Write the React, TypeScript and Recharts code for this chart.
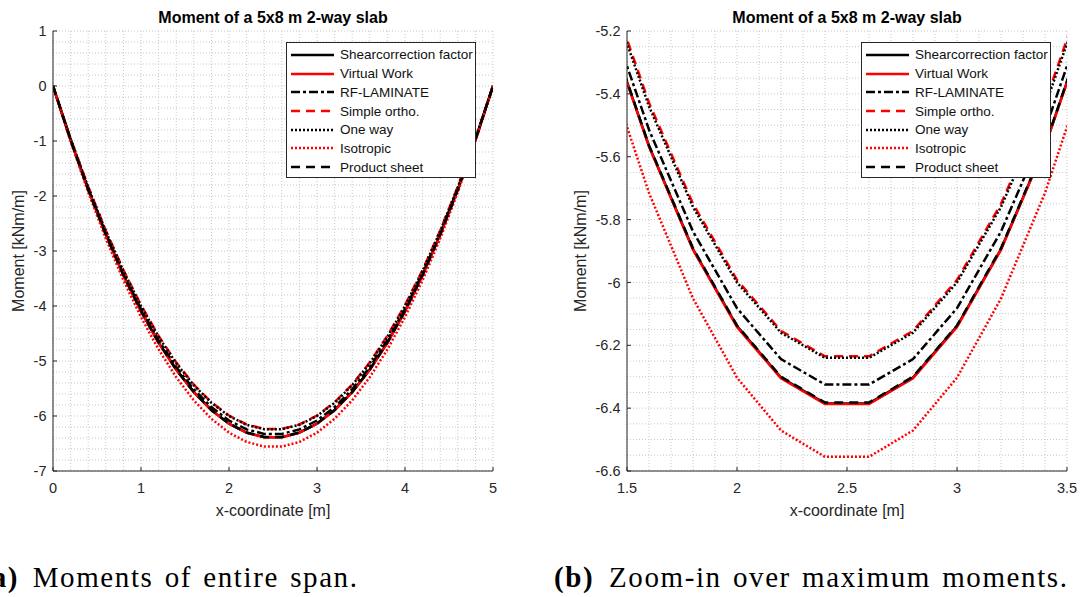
import {
  LineChart,
  Line,
  XAxis,
  YAxis,
  CartesianGrid,
  Legend,
  Label,
} from "recharts";

// x positions along the 5 m span (sampled every 0.2 m)
const xCoord = [
  0, 0.2, 0.4, 0.6, 0.8, 1, 1.2, 1.4, 1.6, 1.8, 2, 2.2, 2.4, 2.6, 2.8, 3, 3.2,
  3.4, 3.6, 3.8, 4, 4.2, 4.4, 4.6, 4.8, 5,
];

// moments [kNm/m]
const shearCorrection = [
  0, -0.982, -1.883, -2.701, -3.438, -4.093, -4.666, -5.157, -5.566, -5.894,
  -6.139, -6.303, -6.385, -6.385, -6.303, -6.139, -5.894, -5.566, -5.157,
  -4.666, -4.093, -3.438, -2.701, -1.883, -0.982, 0,
];
const virtualWork = [
  0, -0.983, -1.883, -2.702, -3.439, -4.094, -4.668, -5.159, -5.568, -5.896,
  -6.142, -6.305, -6.387, -6.387, -6.305, -6.142, -5.896, -5.568, -5.159,
  -4.668, -4.094, -3.439, -2.702, -1.883, -0.983, 0,
];
const rfLaminate = [
  0, -0.973, -1.865, -2.676, -3.406, -4.054, -4.622, -5.109, -5.514, -5.838,
  -6.082, -6.244, -6.325, -6.325, -6.244, -6.082, -5.838, -5.514, -5.109,
  -4.622, -4.054, -3.406, -2.676, -1.865, -0.973, 0,
];
const simpleOrtho = [
  0, -0.955, -1.83, -2.627, -3.345, -3.983, -4.543, -5.025, -5.428, -5.75,
  -5.992, -6.154, -6.235, -6.235, -6.154, -5.992, -5.75, -5.428, -5.025,
  -4.543, -3.983, -3.345, -2.627, -1.83, -0.955, 0,
];
const oneWay = [
  0, -0.96, -1.84, -2.64, -3.36, -4.0, -4.56, -5.04, -5.44, -5.76, -6.0,
  -6.16, -6.24, -6.24, -6.16, -6.0, -5.76, -5.44, -5.04, -4.56, -4.0, -3.36,
  -2.64, -1.84, -0.96, 0,
];
const isotropic = [
  0, -1.008, -1.933, -2.773, -3.53, -4.202, -4.79, -5.295, -5.715, -6.051,
  -6.303, -6.471, -6.555, -6.555, -6.471, -6.303, -6.051, -5.715, -5.295,
  -4.79, -4.202, -3.53, -2.773, -1.933, -1.008, 0,
];
const productSheet = [
  0, -0.982, -1.882, -2.7, -3.437, -4.091, -4.664, -5.155, -5.564, -5.891,
  -6.137, -6.3, -6.382, -6.382, -6.3, -6.137, -5.891, -5.564, -5.155, -4.664,
  -4.091, -3.437, -2.7, -1.882, -0.982, 0,
];

const spanXTicks = [0, 1, 2, 3, 4, 5];
const spanYTicks = [-7, -6, -5, -4, -3, -2, -1, 0, 1];
const zoomXTicks = [1.5, 2, 2.5, 3, 3.5];
const zoomYTicks = [-6.6, -6.4, -6.2, -6, -5.8, -5.6, -5.4, -5.2];

const rows = xCoord.map((x, i) => ({
  x,
  shear: shearCorrection[i],
  virtual: virtualWork[i],
  rf: rfLaminate[i],
  simple: simpleOrtho[i],
  oneWay: oneWay[i],
  iso: isotropic[i],
  product: productSheet[i],
}));

interface SeriesDef {
  key: string;
  name: string;
  color: string;
  dash?: string;
}

const SERIES: SeriesDef[] = [
  { key: "shear", name: "Shearcorrection factor", color: "#000000" },
  { key: "virtual", name: "Virtual Work", color: "#ff0000" },
  { key: "rf", name: "RF-LAMINATE", color: "#000000", dash: "9 3 3 3" },
  { key: "simple", name: "Simple ortho.", color: "#ff0000", dash: "9 6" },
  { key: "oneWay", name: "One way", color: "#000000", dash: "2 2" },
  { key: "iso", name: "Isotropic", color: "#ff0000", dash: "2 2" },
  { key: "product", name: "Product sheet", color: "#000000", dash: "9 6" },
];

// minor grid positions (layout only)
const steps = (from: number, to: number, step: number) => {
  const out: number[] = [];
  const n = Math.round((to - from) / step);
  for (let i = 0; i <= n; i++) out.push(Math.round((from + i * step) * 1000) / 1000);
  return out;
};

const SANS = '"Liberation Sans", Arial, Helvetica, sans-serif';
const SERIF = '"Liberation Serif", "Times New Roman", serif';
const AXIS = "#262626";
const tickStyle = { fill: AXIS, fontSize: 14.5, fontFamily: SANS };
const axisLabelStyle = { fill: AXIS, fontSize: 16, fontFamily: SANS };

const LegendBox = () => (
  <div
    style={{
      width: 190,
      height: 136,
      boxSizing: "border-box",
      border: `1px solid ${AXIS}`,
      background: "#fff",
      paddingTop: 2.6,
      fontFamily: SANS,
      fontSize: 13.5,
      color: "#111",
    }}
  >
    {SERIES.map((s) => (
      <div
        key={s.key}
        style={{ display: "flex", alignItems: "center", height: 18.7 }}
      >
        <svg width={48} height={10} style={{ flex: "none" }}>
          <line
            x1={4}
            x2={47}
            y1={5}
            y2={5}
            stroke={s.color}
            strokeWidth={2.6}
            strokeDasharray={s.dash}
          />
        </svg>
        <span style={{ marginLeft: 5, whiteSpace: "nowrap" }}>{s.name}</span>
      </div>
    ))}
  </div>
);

interface MomentChartProps {
  xDomain: [number, number];
  yDomain: [number, number];
  xTicks: number[];
  yTicks: number[];
  xMinor: number[];
  yMinor: number[];
  marginLeft: number;
  marginRight: number;
  yAxisWidth: number;
  yLabelOffset: number;
  legendLeft: number;
}

const MomentChart = (p: MomentChartProps) => (
  <LineChart
    width={540}
    height={530}
    data={rows}
    margin={{ top: 31, right: p.marginRight, bottom: 14, left: p.marginLeft }}
  >
    <XAxis
      xAxisId="minorX"
      type="number"
      dataKey="x"
      domain={p.xDomain}
      ticks={p.xMinor}
      interval={0}
      allowDataOverflow
      hide
    />
    <YAxis
      yAxisId="minorY"
      type="number"
      domain={p.yDomain}
      ticks={p.yMinor}
      interval={0}
      allowDataOverflow
      hide
    />
    <CartesianGrid
      xAxisId="minorX"
      yAxisId="minorY"
      stroke="#c8c8c8"
      strokeDasharray="1 2"
    />
    <XAxis
      type="number"
      dataKey="x"
      domain={p.xDomain}
      ticks={p.xTicks}
      interval={0}
      allowDataOverflow
      height={45}
      tickSize={-4}
      tickMargin={16}
      tick={tickStyle}
      axisLine={{ stroke: AXIS }}
      tickLine={{ stroke: AXIS }}
    >
      <Label
        value="x-coordinate [m]"
        position="insideTop"
        offset={33.5}
        style={axisLabelStyle}
      />
    </XAxis>
    <YAxis
      type="number"
      domain={p.yDomain}
      ticks={p.yTicks}
      interval={0}
      allowDataOverflow
      width={p.yAxisWidth}
      tickSize={-4}
      tickMargin={10.5}
      tick={tickStyle}
      axisLine={{ stroke: AXIS }}
      tickLine={{ stroke: AXIS }}
    >
      <Label
        value="Moment [kNm/m]"
        position="insideLeft"
        angle={-90}
        offset={p.yLabelOffset}
        style={{ ...axisLabelStyle, textAnchor: "middle" }}
      />
    </YAxis>
    <XAxis
      xAxisId="top"
      orientation="top"
      type="number"
      domain={p.xDomain}
      ticks={p.xTicks}
      interval={0}
      allowDataOverflow
      height={0}
      tickSize={-4}
      tickFormatter={() => ""}
      axisLine={{ stroke: AXIS }}
      tickLine={{ stroke: AXIS }}
    />
    <YAxis
      yAxisId="right"
      orientation="right"
      type="number"
      domain={p.yDomain}
      ticks={p.yTicks}
      interval={0}
      allowDataOverflow
      width={0}
      tickSize={-4}
      tickFormatter={() => ""}
      axisLine={{ stroke: AXIS }}
      tickLine={{ stroke: AXIS }}
    />
    {SERIES.map((s) => (
      <Line
        key={s.key}
        type="linear"
        dataKey={s.key}
        name={s.name}
        stroke={s.color}
        strokeWidth={2.5}
        strokeDasharray={s.dash}
        dot={false}
        activeDot={false}
        isAnimationActive={false}
      />
    ))}
    <Legend
      layout="vertical"
      align="center"
      verticalAlign="middle"
      wrapperStyle={{ left: p.legendLeft, top: 42, width: 190, height: 136 }}
      content={() => <LegendBox />}
    />
  </LineChart>
);

const titleStyle = (center: number): React.CSSProperties => ({
  position: "absolute",
  left: center - 200,
  width: 400,
  top: 9.5,
  lineHeight: "16px",
  textAlign: "center",
  fontFamily: SANS,
  fontWeight: 700,
  fontSize: 16,
  color: "#000",
  whiteSpace: "nowrap",
});

const captionStyle: React.CSSProperties = {
  position: "absolute",
  top: 562.7,
  lineHeight: "29px",
  fontFamily: SERIF,
  fontSize: 29,
  letterSpacing: 1.6,
  wordSpacing: 2.4,
  color: "#000",
  whiteSpace: "nowrap",
};

export default function App() {
  return (
    <div
      style={{
        position: "absolute",
        left: 0,
        top: 0,
        width: 1080,
        height: 597,
        overflow: "hidden",
        background: "#fff",
      }}
    >
      <div style={{ position: "absolute", left: 0, top: 0 }}>
        <MomentChart
          xDomain={[0, 5]}
          yDomain={[-7, 1]}
          xTicks={spanXTicks}
          yTicks={spanYTicks}
          xMinor={steps(0, 5, 0.2)}
          yMinor={steps(-7, 1, 0.2)}
          marginLeft={13}
          marginRight={47}
          yAxisWidth={40}
          yLabelOffset={5.8}
          legendLeft={286}
        />
      </div>
      <div style={{ position: "absolute", left: 540, top: 0 }}>
        <MomentChart
          xDomain={[1.5, 3.5]}
          yDomain={[-6.6, -5.2]}
          xTicks={zoomXTicks}
          yTicks={zoomYTicks}
          xMinor={steps(1.5, 3.5, 0.1)}
          yMinor={steps(-6.6, -5.2, 0.05)}
          marginLeft={37}
          marginRight={13}
          yAxisWidth={50}
          yLabelOffset={3.5}
          legendLeft={321}
        />
      </div>
      <div style={titleStyle(273)}>Moment of a 5x8 m 2-way slab</div>
      <div style={titleStyle(847)}>Moment of a 5x8 m 2-way slab</div>

      <div style={{ ...captionStyle, right: 1080 - 19, fontWeight: 700 }}>(a)</div>
      <div style={{ ...captionStyle, left: 32.7 }}>Moments of entire span.</div>
      <div style={{ ...captionStyle, left: 554, fontWeight: 700 }}>(b)</div>
      <div style={{ ...captionStyle, left: 609 }}>Zoom-in over maximum moments.</div>
    </div>
  );
}
